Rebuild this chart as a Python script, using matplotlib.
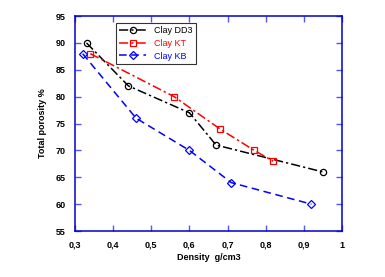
import matplotlib
matplotlib.use("Agg")
import matplotlib.pyplot as plt
from matplotlib.ticker import FuncFormatter

plt.rcParams['font.family'] = ['Liberation Sans', 'DejaVu Sans']

dd3_x = [0.33, 0.44, 0.60, 0.67, 0.95]
dd3_y = [90, 82, 77, 71, 66]
kt_x = [0.34, 0.56, 0.68, 0.77, 0.82]
kt_y = [88, 80, 74, 70, 68]
kb_x = [0.32, 0.46, 0.60, 0.71, 0.92]
kb_y = [88, 76, 70, 64, 60]

xticks = [0.3, 0.4, 0.5, 0.6, 0.7, 0.8, 0.9, 1.0]
yticks = [55, 60, 65, 70, 75, 80, 85, 90, 95]

fig = plt.figure(figsize=(3.85, 2.77), dpi=100)
ax = fig.add_axes([0.195, 0.166, 0.693, 0.776])

ax.plot(dd3_x, dd3_y, color='black', lw=1.1, dashes=[6, 2, 1.5, 2],
        marker='o', ms=4.5, mfc='none', mew=0.9, label='Clay DD3')
ax.plot(kt_x, kt_y, color='red', lw=1.1, dashes=[6, 2, 1.5, 2],
        marker='s', ms=4.5, mfc='none', mew=0.9, label='Clay KT')
ax.plot(kb_x, kb_y, color='blue', lw=1.1, dashes=[5, 3],
        marker='D', ms=4, mfc='none', mew=0.9, label='Clay KB')

ax.set_xlim(0.3, 1.0)
ax.set_ylim(55, 95)
ax.set_xticks(xticks)
ax.set_yticks(yticks)
fmt = lambda v, p: ('%g' % round(v, 2)).replace('.', ',')
ax.xaxis.set_major_formatter(FuncFormatter(fmt))

for s in ax.spines.values():
    s.set_color('#0000cc')
    s.set_linewidth(1.1)
ax.tick_params(direction='in', top=True, right=True, length=4, width=1,
               color='#5555ff', labelsize=6.5, pad=7)
for lab in ax.get_xticklabels() + ax.get_yticklabels():
    lab.set_fontweight('bold')

ax.set_xlabel('Density  g/cm3', fontsize=6.5, fontweight='bold', labelpad=2)
ax.set_ylabel('Total porosity %', fontsize=6.5, fontweight='bold', labelpad=6)

leg = ax.legend(loc='upper left', bbox_to_anchor=(0.135, 0.99), fontsize=6.5,
                frameon=True, fancybox=False, handlelength=3, borderpad=0.4,
                labelspacing=0.4)
leg.get_frame().set_edgecolor('black')
leg.get_frame().set_linewidth(0.8)
for t, c in zip(leg.get_texts(), ['black', 'red', 'blue']):
    t.set_color(c)

fig.savefig('out.png', dpi=100)
